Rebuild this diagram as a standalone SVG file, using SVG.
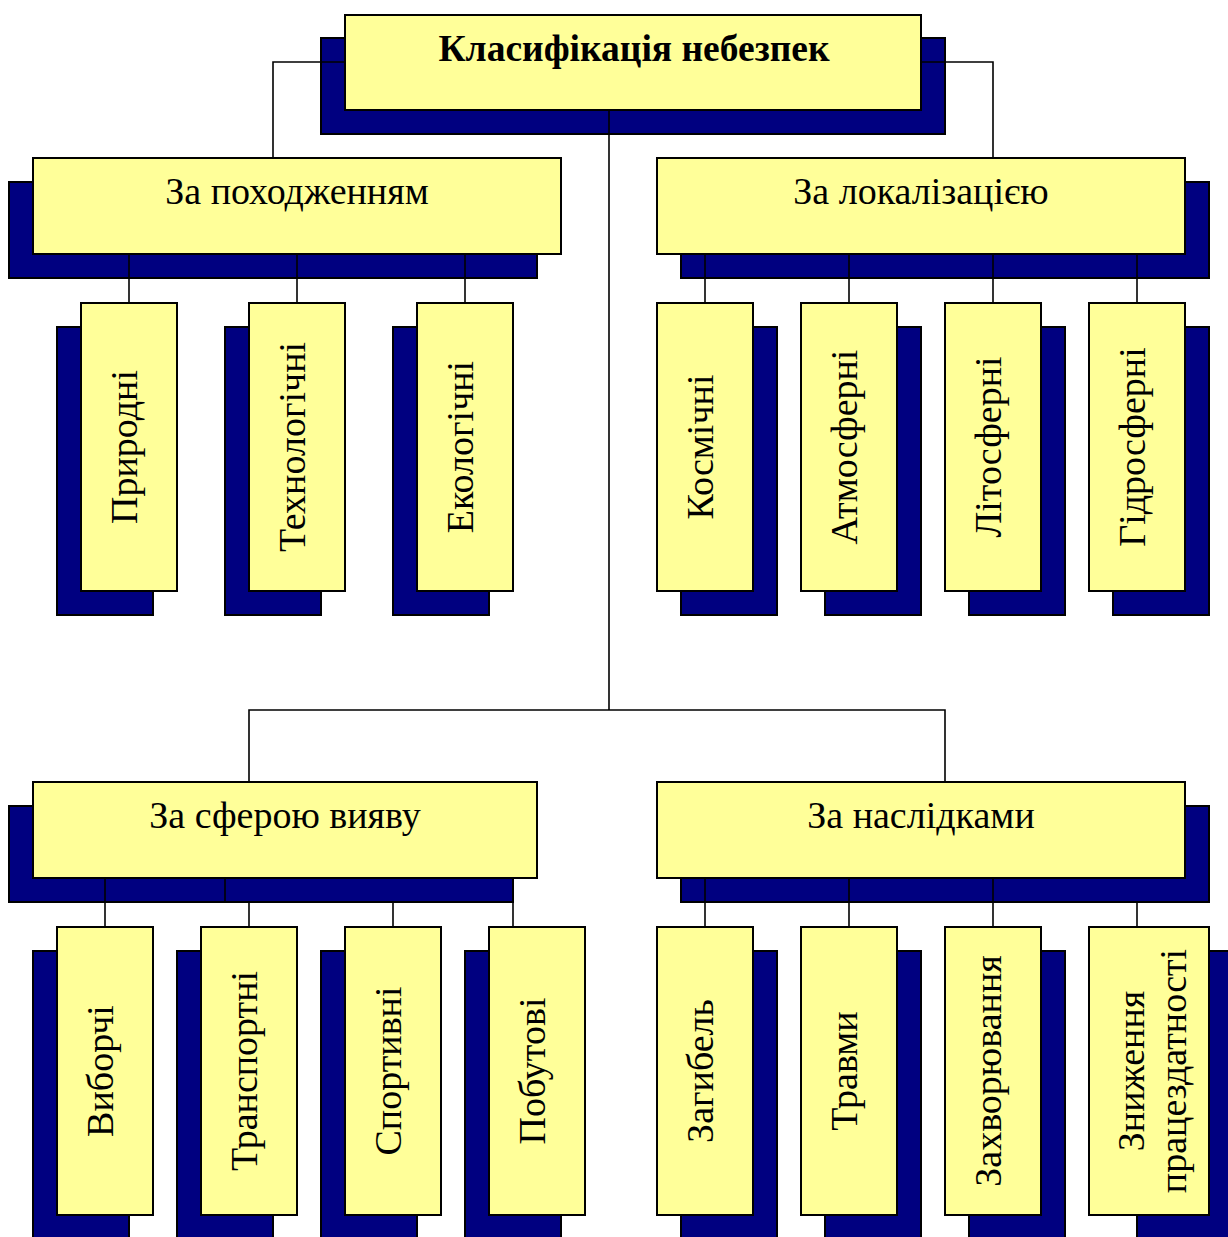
<svg xmlns="http://www.w3.org/2000/svg" width="1228" height="1237" viewBox="0 0 1228 1237">
  <style>
    .shadow { fill: #000080; stroke: #000000; stroke-width: 2; }
    .box { fill: #FFFF99; stroke: #000000; stroke-width: 2; }
    .link { fill: none; stroke: #000000; stroke-width: 1.6; }
    .title { font-family: "Liberation Serif", "Times New Roman", serif; font-size: 37.5px; font-weight: bold; fill: #000000; text-anchor: middle; }
    .head { font-family: "Liberation Serif", "Times New Roman", serif; font-size: 38px; fill: #000000; text-anchor: middle; }
    .leaf { font-family: "Liberation Serif", "Times New Roman", serif; font-size: 38px; fill: #000000; text-anchor: middle; }
  </style>
  <rect width="1228" height="1237" fill="#FFFFFF"/>

  <!-- root -->
  <g id="root">
    <rect class="shadow" x="321" y="38" width="624" height="96"/>
    <rect class="box" x="345" y="15" width="576" height="95"/>
    <text class="title" x="634" y="61">Класифікація небезпек</text>
  </g>

  <!-- first-level categories -->
  <g id="origin">
    <rect class="shadow" x="9" y="182" width="528" height="96"/>
    <rect class="box" x="33" y="158" width="528" height="96"/>
    <text class="head" x="297" y="204">За походженням</text>
  </g>
  <g id="location">
    <rect class="shadow" x="681" y="182" width="528" height="96"/>
    <rect class="box" x="657" y="158" width="528" height="96"/>
    <text class="head" x="921" y="204">За локалізацією</text>
  </g>
  <g id="sphere">
    <rect class="shadow" x="9" y="806" width="504" height="96"/>
    <rect class="box" x="33" y="782" width="504" height="96"/>
    <text class="head" x="285" y="828">За сферою вияву</text>
  </g>
  <g id="consequences">
    <rect class="shadow" x="681" y="806" width="528" height="96"/>
    <rect class="box" x="657" y="782" width="528" height="96"/>
    <text class="head" x="921" y="828">За наслідками</text>
  </g>

  <!-- origin leaves -->
  <g id="natural">
    <rect class="shadow" x="57" y="327" width="96" height="288"/>
    <rect class="box" x="81" y="303" width="96" height="288"/>
    <text class="leaf" transform="translate(137,447) rotate(-90)">Природні</text>
  </g>
  <g id="technological">
    <rect class="shadow" x="225" y="327" width="96" height="288"/>
    <rect class="box" x="249" y="303" width="96" height="288"/>
    <text class="leaf" transform="translate(305,447) rotate(-90)">Технологічні</text>
  </g>
  <g id="ecological">
    <rect class="shadow" x="393" y="327" width="96" height="288"/>
    <rect class="box" x="417" y="303" width="96" height="288"/>
    <text class="leaf" transform="translate(473,447) rotate(-90)">Екологічні</text>
  </g>

  <!-- location leaves -->
  <g id="cosmic">
    <rect class="shadow" x="681" y="327" width="96" height="288"/>
    <rect class="box" x="657" y="303" width="96" height="288"/>
    <text class="leaf" transform="translate(713,447) rotate(-90)">Космічні</text>
  </g>
  <g id="atmospheric">
    <rect class="shadow" x="825" y="327" width="96" height="288"/>
    <rect class="box" x="801" y="303" width="96" height="288"/>
    <text class="leaf" transform="translate(857,447) rotate(-90)">Атмосферні</text>
  </g>
  <g id="lithospheric">
    <rect class="shadow" x="969" y="327" width="96" height="288"/>
    <rect class="box" x="945" y="303" width="96" height="288"/>
    <text class="leaf" transform="translate(1001,447) rotate(-90)">Літосферні</text>
  </g>
  <g id="hydrospheric">
    <rect class="shadow" x="1113" y="327" width="96" height="288"/>
    <rect class="box" x="1089" y="303" width="96" height="288"/>
    <text class="leaf" transform="translate(1145,447) rotate(-90)">Гідросферні</text>
  </g>

  <!-- sphere leaves -->
  <g id="selective">
    <rect class="shadow" x="33" y="951" width="96" height="288"/>
    <rect class="box" x="57" y="927" width="96" height="288"/>
    <text class="leaf" transform="translate(113,1071) rotate(-90)">Виборчі</text>
  </g>
  <g id="transport">
    <rect class="shadow" x="177" y="951" width="96" height="288"/>
    <rect class="box" x="201" y="927" width="96" height="288"/>
    <text class="leaf" transform="translate(257,1071) rotate(-90)">Транспортні</text>
  </g>
  <g id="sport">
    <rect class="shadow" x="321" y="951" width="96" height="288"/>
    <rect class="box" x="345" y="927" width="96" height="288"/>
    <text class="leaf" transform="translate(401,1071) rotate(-90)">Спортивні</text>
  </g>
  <g id="household">
    <rect class="shadow" x="465" y="951" width="96" height="288"/>
    <rect class="box" x="489" y="927" width="96" height="288"/>
    <text class="leaf" transform="translate(545,1071) rotate(-90)">Побутові</text>
  </g>

  <!-- consequence leaves -->
  <g id="death">
    <rect class="shadow" x="681" y="951" width="96" height="288"/>
    <rect class="box" x="657" y="927" width="96" height="288"/>
    <text class="leaf" transform="translate(713,1071) rotate(-90)">Загибель</text>
  </g>
  <g id="injury">
    <rect class="shadow" x="825" y="951" width="96" height="288"/>
    <rect class="box" x="801" y="927" width="96" height="288"/>
    <text class="leaf" transform="translate(857,1071) rotate(-90)">Травми</text>
  </g>
  <g id="disease">
    <rect class="shadow" x="969" y="951" width="96" height="288"/>
    <rect class="box" x="945" y="927" width="96" height="288"/>
    <text class="leaf" transform="translate(1001,1071) rotate(-90)">Захворювання</text>
  </g>
  <g id="disability">
    <rect class="shadow" x="1137" y="951" width="120" height="288"/>
    <rect class="box" x="1089" y="927" width="120" height="288"/>
    <text class="leaf" transform="translate(1144,1071) rotate(-90)">Зниження</text>
    <text class="leaf" transform="translate(1186,1071) rotate(-90)">працездатності</text>
  </g>

  <!-- connectors -->
  <g id="connectors">
    <polyline class="link" points="345,62 273,62 273,158"/>
    <polyline class="link" points="921,62 993,62 993,158"/>
    <line class="link" x1="609" y1="110" x2="609" y2="710"/>
    <polyline class="link" points="249,782 249,710 945,710 945,782"/>

    <line class="link" x1="129" y1="254" x2="129" y2="303"/>
    <line class="link" x1="297" y1="254" x2="297" y2="303"/>
    <line class="link" x1="465" y1="254" x2="465" y2="303"/>

    <line class="link" x1="705" y1="254" x2="705" y2="303"/>
    <line class="link" x1="849" y1="254" x2="849" y2="303"/>
    <line class="link" x1="993" y1="254" x2="993" y2="303"/>
    <line class="link" x1="1137" y1="254" x2="1137" y2="303"/>

    <line class="link" x1="105" y1="878" x2="105" y2="927"/>
    <line class="link" x1="225" y1="878" x2="225" y2="902"/>
    <line class="link" x1="249" y1="902" x2="249" y2="927"/>
    <line class="link" x1="393" y1="902" x2="393" y2="927"/>
    <line class="link" x1="513" y1="878" x2="513" y2="927"/>

    <line class="link" x1="705" y1="878" x2="705" y2="927"/>
    <line class="link" x1="849" y1="878" x2="849" y2="927"/>
    <line class="link" x1="993" y1="878" x2="993" y2="927"/>
    <line class="link" x1="1137" y1="902" x2="1137" y2="927"/>
  </g>
</svg>
